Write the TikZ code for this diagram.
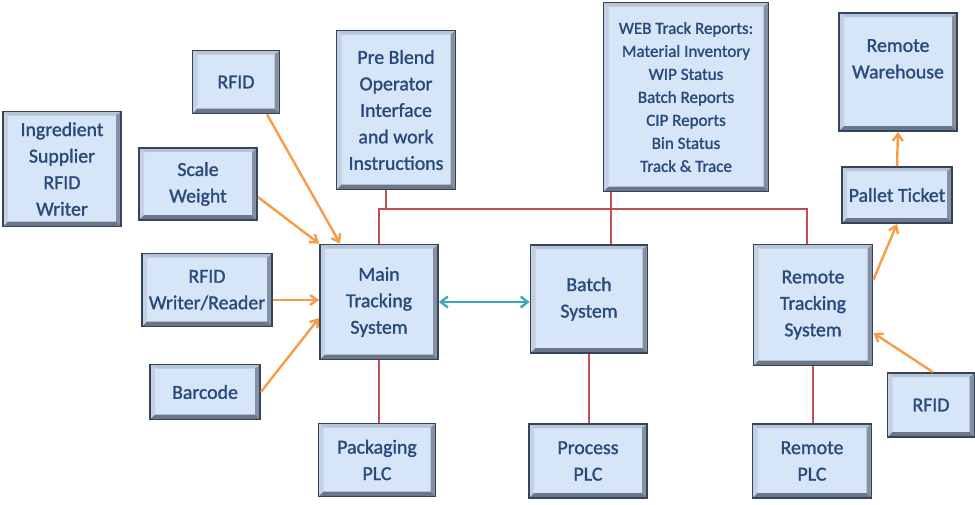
\documentclass[tikz,border=0pt]{standalone}
\usepackage{fontspec}
\setmainfont{Carlito}
\newfontfamily\boxfont{Carlito}[FakeBold=1.4]
\usetikzlibrary{arrows.meta}
\usetikzlibrary{positioning, calc}
\definecolor{bxfill}{HTML}{D6E5F8}
\definecolor{bxtext}{HTML}{2B4A7C}
\definecolor{bxline}{HTML}{33445C}
\definecolor{bevtop}{HTML}{B7C4D6}
\definecolor{bevleft}{HTML}{C4D1E2}
\definecolor{bevright}{HTML}{8591A3}
\definecolor{bevbot}{HTML}{6B7789}
\definecolor{feedorange}{HTML}{F79C45}
\definecolor{linkteal}{HTML}{3DA7B8}
\definecolor{busred}{HTML}{C0504D}

\begin{document}
\begin{tikzpicture}[
    x=1pt, y=-1pt,
    box/.style={draw=bxline, line width=1.8pt, fill=bxfill, text=bxtext,
                align=center, inner sep=0pt,
                font=\boxfont\fontsize{19.8}{26.5}\selectfont,
                path picture={
                  \path (path picture bounding box.north west) coordinate (bnw)
                        (path picture bounding box.north east) coordinate (bne)
                        (path picture bounding box.south west) coordinate (bsw)
                        (path picture bounding box.south east) coordinate (bse);
                  \fill[bevtop] (bnw) -- (bne) -- ([shift={(-5pt,-4pt)}]bne)
                    -- ([shift={(5pt,-4pt)}]bnw) -- cycle;
                  \fill[bevleft] (bnw) -- ([shift={(5pt,-4pt)}]bnw)
                    -- ([shift={(5pt,5pt)}]bsw) -- (bsw) -- cycle;
                  \fill[bevright] (bne) -- (bse) -- ([shift={(-5pt,5pt)}]bse)
                    -- ([shift={(-5pt,-4pt)}]bne) -- cycle;
                  \fill[bevbot] (bsw) -- (bse) -- ([shift={(-5pt,5pt)}]bse)
                    -- ([shift={(5pt,5pt)}]bsw) -- cycle;
                }},
    feed/.style={feedorange, line width=2.4pt, -{Straight Barb[length=7pt, width=10pt]}},
    link/.style={linkteal, line width=2.4pt, {Straight Barb[length=7pt, width=11pt]}-{Straight Barb[length=7pt, width=11pt]}},
    bus/.style={busred, line width=2pt},
  ]
  \useasboundingbox (0,0) rectangle (975,504);

  % ---- input devices (left) ----
  \node[box, minimum width=118, minimum height=115] (supplier) at (62,169)
    {Ingredient\\Supplier\\RFID\\Writer};
  \node[box, minimum width=87, minimum height=63] (rfidtop) at (236,82) {RFID};
  \node[box, minimum width=118, minimum height=72] (scale) at (198,184)
    {Scale\\Weight};
  \node[box, minimum width=130, minimum height=73] (rfidwr) at (207,290)
    {RFID\\Writer/Reader};
  \node[box, minimum width=110, minimum height=55] (barcode) at (205,392)
    {Barcode};

  % ---- core systems ----
  \node[box, minimum width=119, minimum height=159] (preblend) at (396,110)
    {Pre Blend\\Operator\\Interface\\and work\\Instructions};
  \node[box, minimum width=118, minimum height=115] (main) at (379,302)
    {Main\\Tracking\\System};
  \node[box, minimum width=117, minimum height=73] (packaging) at (377,460)
    {Packaging\\PLC};
  \node[box, minimum width=165, minimum height=189,
        font=\boxfont\fontsize{17}{23}\selectfont] (web) at (686,97)
    {WEB Track Reports:\\Material Inventory\\WIP Status\\Batch Reports\\CIP Reports\\Bin Status\\Track \& Trace};
  \node[box, minimum width=117, minimum height=108] (batch) at (589,299)
    {Batch\\System};
  \node[box, minimum width=118, minimum height=74] (process) at (588,461)
    {Process\\PLC};

  % ---- remote site ----
  \node[box, minimum width=118, minimum height=118] (warehouse) at (898,72)
    {Remote\\Warehouse\\{}};
  \node[box, minimum width=110, minimum height=56] (pallet) at (897,195)
    {Pallet Ticket};
  \node[box, minimum width=119, minimum height=121] (remote) at (813,305)
    {Remote\\Tracking\\System};
  \node[box, minimum width=119, minimum height=74] (remoteplc) at (812,461)
    {Remote\\PLC};
  \node[box, minimum width=87, minimum height=64] (rfidright) at (931,405)
    {RFID};

  % ---- data feeds ----
  \draw[feed] ([xshift=31pt]rfidtop.south) -- ([xshift=21pt]main.north west);
  \draw[feed] ([yshift=-13pt]scale.east) -- (main.north west);
  \draw[feed] ([yshift=-10pt]rfidwr.east) -- ([yshift=-10pt]rfidwr.east -| main.west);
  \draw[feed] (barcode.east) -- ([yshift=-16pt]main.west);
  \draw[feed] ([yshift=-36pt]remote.north east) -- (pallet.south);
  \draw[feed] (pallet.north) -- (warehouse.south);
  \draw[feed] ([xshift=2pt]rfidright.north) -- ([yshift=-28pt]remote.east);

  % ---- main <-> batch ----
  \draw[link] (main.east) -- (main.east -| batch.west);

  % ---- network bus ----
  \draw[bus] (main.north) |- ($(remote.north)+(-6,-35)$) -- ([xshift=-6pt]remote.north);
  \draw[bus] ([xshift=-10pt]preblend.south) -- ++(0,20);
  \draw[bus] ([xshift=-75pt]web.south) -- ([xshift=-75pt]web.south |- batch.north);
  \draw[bus] (main.south) -- (main.south |- packaging.north);
  \draw[bus] (batch.south) -- (batch.south |- process.north);
  \draw[bus] (remote.south) -- (remote.south |- remoteplc.north);
\end{tikzpicture}
\end{document}
